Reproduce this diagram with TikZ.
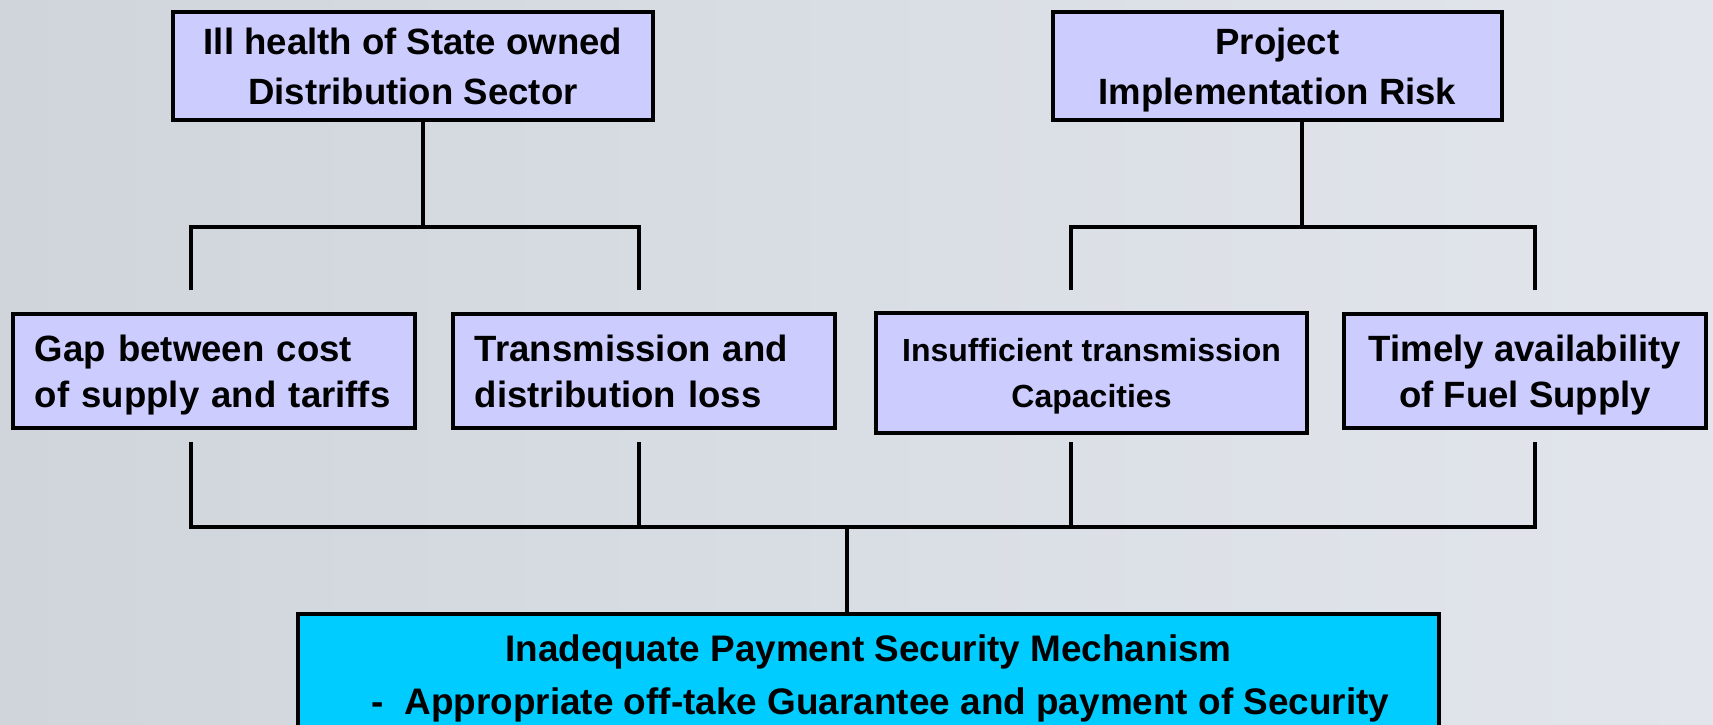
\documentclass[tikz,border=0pt]{standalone}
\usepackage{fontspec}
\setmainfont{Liberation Sans}
\usepackage{tikz}
\definecolor{Lav}{RGB}{204,204,255}
\definecolor{Sky}{RGB}{0,204,255}
\definecolor{Bg-1}{RGB}{208,213,220}
\definecolor{Bg-2}{RGB}{246,248,251}
\definecolor{Bg-3}{RGB}{226,230,236}

\begin{document}
\begin{tikzpicture}[x=0.01cm, y=-0.01cm]
    \tikzset{ cause/.style ={draw=black, line width=1.1pt, fill=Lav, inner sep=0pt, text depth=0pt, align=center, font=\bfseries\fontsize{10.4}{14.2}\selectfont} }
    \tikzset{ causel/.style={cause, align=left, inner xsep=0.22cm, text depth=13.1pt, font=\bfseries\fontsize{10.4}{13.1}\selectfont} }
    \tikzset{ effect/.style={cause, fill=Sky, inner ysep=0.21cm, anchor=north, font=\bfseries\fontsize{10.5}{15}\selectfont} }
    \tikzset{ link/.style  ={line width=1pt, line join=miter} }

    \clip (0,0) rectangle (1713,725);
    \shade[left color=Bg-1, middle color=Bg-2, right color=Bg-3] (0,0) rectangle (1713,725);

    \node[cause,  minimum width=4.8cm,  minimum height=1.08cm] (ill)  at ( 413,   66) {Ill health of State owned\\Distribution Sector};
    \node[cause,  minimum width=4.49cm, minimum height=1.08cm] (risk) at (1277.5, 66) {Project\\Implementation Risk};
    \node[causel, text width=3.58cm,    minimum height=1.14cm] (gap)  at ( 214,  371) {Gap between cost\\of supply and tariffs};
    \node[causel, text width=3.38cm,    minimum height=1.14cm] (loss) at ( 644,  371) {Transmission and\\distribution loss};
    \node[cause,  minimum width=4.31cm, minimum height=1.2cm, font=\bfseries\fontsize{9.1}{13}\selectfont] (cap) at (1091.5, 373) {Insufficient transmission\\Capacities};
    \node[cause,  minimum width=3.62cm, minimum height=1.14cm, font=\bfseries\fontsize{10.4}{13.1}\selectfont] (fuel) at (1525, 371) {Timely availability\\of Fuel Supply};
    \node[effect, minimum width=11.41cm] (psm) at (868.5, 612) {Inadequate Payment Security Mechanism\\\hspace*{0.24cm}-\ \ Appropriate off-take Guarantee and payment of Security};

    \coordinate (ill_j)  at ( 423, 227);
    \coordinate (risk_j) at (1302, 227);
    \coordinate (psm_j)  at ( 847, 527);
    \coordinate (gap_n)  at ( 191, 290);
    \coordinate (loss_n) at ( 639, 290);
    \coordinate (cap_n)  at (1071, 290);
    \coordinate (fuel_n) at (1535, 290);
    \coordinate (gap_s)  at ( 191, 442);
    \coordinate (loss_s) at ( 639, 442);
    \coordinate (cap_s)  at (1071, 442);
    \coordinate (fuel_s) at (1535, 442);

    \draw[link] (ill.south -| ill_j)   -- (ill_j);
    \draw[link] (gap_n) -- (gap_n |- ill_j) -- (loss_n |- ill_j) -- (loss_n);
    \draw[link] (risk.south -| risk_j) -- (risk_j);
    \draw[link] (cap_n) -- (cap_n |- risk_j) -- (fuel_n |- risk_j) -- (fuel_n);
    \draw[link] (gap_s) -- (gap_s |- psm_j) -- (fuel_s |- psm_j) -- (fuel_s);
    \draw[link] (loss_s) -- (loss_s |- psm_j);
    \draw[link] (cap_s)  -- (cap_s |- psm_j);
    \draw[link] (psm_j)  -- (psm.north -| psm_j);

\end{tikzpicture}
\end{document}
